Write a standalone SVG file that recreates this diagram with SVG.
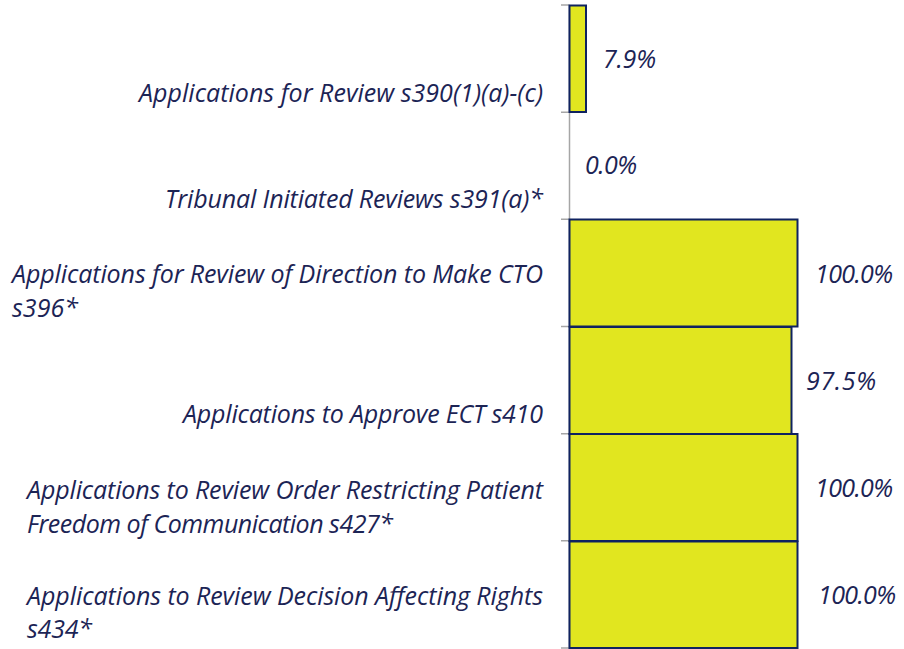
<svg xmlns="http://www.w3.org/2000/svg" width="904" height="649" viewBox="0 0 904 649">
<style>
text{font-family:"Open Sans",Lato,"Liberation Sans",sans-serif;font-style:italic;font-size:25px;fill:#1c2455}
.r{text-anchor:end}
.bar{fill:#e1e61f;stroke:#0f2260;stroke-width:2}
.ax{stroke:#a6a6a6;stroke-width:1.5;fill:none}
</style>
<rect width="904" height="649" fill="#fff"/>
<g id="axis">
<path class="ax" d="M569.5 5V649M561 5H569.5M561 112.2H569.5M561 219.3H569.5M561 326.5H569.5M561 433.7H569.5M561 540.8H569.5M561 648H569.5"/>
</g>
<g id="bar1"><rect class="bar" x="569.5" y="5.5" width="16.5" height="106.5"/><text x="603" y="68" textLength="53">7.9%</text>
<text class="r" x="543" y="102" textLength="404">Applications for Review s390(1)(a)-(c)</text></g>
<g id="bar2"><text x="585" y="174" textLength="52">0.0%</text>
<text class="r" x="543" y="208" textLength="378">Tribunal Initiated Reviews s391(a)*</text></g>
<g id="bar3"><rect class="bar" x="569.5" y="219.5" width="228" height="107"/><text x="815" y="283" textLength="78">100.0%</text>
<text x="12" y="283" textLength="531">Applications for Review of Direction to Make CTO</text><text x="12" y="317" textLength="66">s396*</text></g>
<g id="bar4"><rect class="bar" x="569.5" y="327" width="222" height="107"/><text x="806" y="390" textLength="70">97.5%</text>
<text class="r" x="543" y="423" textLength="360">Applications to Approve ECT s410</text></g>
<g id="bar5"><rect class="bar" x="569.5" y="434" width="228" height="107"/><text x="815" y="497" textLength="78">100.0%</text>
<text x="27" y="499" textLength="516">Applications to Review Order Restricting Patient</text><text x="27" y="533" textLength="366">Freedom of Communication s427*</text></g>
<g id="bar6"><rect class="bar" x="569.5" y="541.5" width="228" height="106.5"/><text x="818" y="604" textLength="78">100.0%</text>
<text x="27" y="605" textLength="516">Applications to Review Decision Affecting Rights</text><text x="27" y="638" textLength="65">s434*</text></g>
</svg>
